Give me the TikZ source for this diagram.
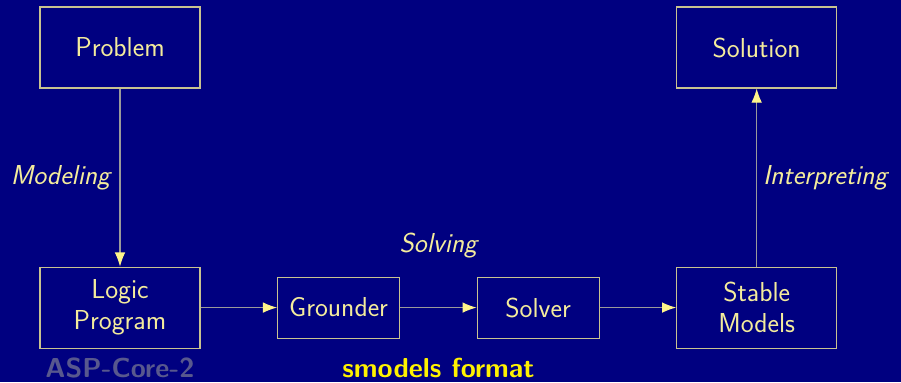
\documentclass[tikz,border=0pt]{standalone}
\usepackage{tikz}
\usetikzlibrary{arrows.meta, positioning, calc}
\definecolor{slidebg}{HTML}{000080}
\definecolor{boxline}{HTML}{C8C290}
\definecolor{wireline}{HTML}{9A9A9A}
\definecolor{textyellow}{HTML}{F4EC9C}
\definecolor{tipyellow}{HTML}{FFF58A}
\definecolor{greyblue}{HTML}{58588E}
\definecolor{brightyellow}{HTML}{FFF200}
\tikzstyle{stage}  = [rectangle, draw=boxline, line width=0.6pt, text=textyellow,
                      minimum width=3.2cm, minimum height=1.62cm, align=center,
                      font=\sffamily\fontsize{15.6}{17.6}\selectfont]
\tikzstyle{tool}   = [stage, minimum width=2.44cm, minimum height=1.22cm]
\tikzstyle{flow}   = [-{Latex[length=8pt, width=6pt, color=tipyellow]},
                      draw=wireline, line width=0.6pt]
\tikzstyle{phase}  = [text=textyellow, font=\sffamily\itshape\fontsize{15.6}{17.6}\selectfont]
\tikzstyle{format} = [font=\sffamily\bfseries\fontsize{15.6}{17.6}\selectfont]

\begin{document}
\begin{tikzpicture}[node distance=3.56cm and 1.53cm]

  %% background
  \fill[slidebg] (0,0) rectangle (18.02,-7.64);
  \useasboundingbox (0,0) rectangle (18.02,-7.64);

  %% Top row
  \node[stage] (problem) at (2.4,-0.95) {Problem};

  %% Pipeline
  \node[stage, below=of problem] (logic) {Logic\\Program};
  \node[tool, right=of logic] (grounder) {Grounder};
  \node[tool, right=of grounder] (solver) {Solver};
  \node[stage, right=of solver] (stable) {Stable\\Models};

  \node[stage, above=of stable] (solution) {Solution};

  %% Formats
  \coordinate (gs) at ($(grounder)!0.5!(solver)$);
  \node[format, text=greyblue, below=0.06cm of logic] (aspcore) {ASP-Core-2};
  \node[format, text=brightyellow, anchor=north] (smodels)
        at ($(gs)+(0,-0.89)$) {smodels format};

  %% Arrows
  \draw[flow] (problem) -- node[phase, left, xshift=-2pt] {Modeling} (logic);
  \draw[flow] (logic) -- (grounder);
  \draw[flow] (grounder) -- node[phase, yshift=1.23cm] {Solving} (solver);
  \draw[flow] (solver) -- (stable);
  \draw[flow] (stable) -- node[phase, right] {Interpreting} (solution);

\end{tikzpicture}
\end{document}
